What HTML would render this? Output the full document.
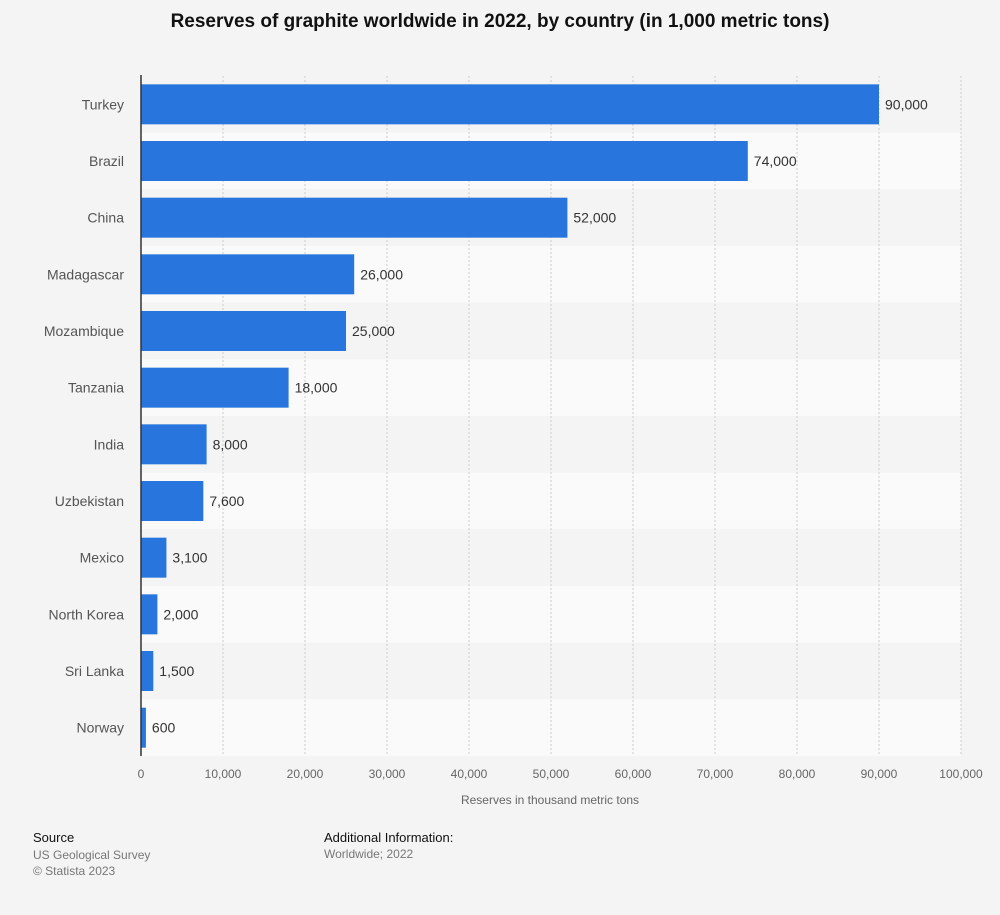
<!DOCTYPE html>
<html><head><meta charset="utf-8"><style>
body{margin:0;background:#f4f4f4;font-family:"Liberation Sans",sans-serif;}
#wrap{position:relative;width:1000px;height:915px;background:#f4f4f4;}
.t{position:absolute;white-space:nowrap;}
</style></head><body>
<div id="wrap">
<div class="t" style="left:0;width:1000px;text-align:center;top:11px;font-size:19px;font-weight:bold;color:#111">Reserves of graphite worldwide in 2022, by country (in 1,000 metric tons)</div>
<svg id="chart" width="1000" height="915" style="position:absolute;left:0;top:0"></svg>
<div class="t" style="left:33px;top:830px;font-size:13px;color:#111">Source</div>
<div class="t" style="left:33px;top:847px;font-size:12px;color:#777;line-height:16px">US Geological Survey<br>© Statista 2023</div>
<div class="t" style="left:324px;top:830px;font-size:13px;color:#111">Additional Information:</div>
<div class="t" style="left:324px;top:847px;font-size:12px;color:#777">Worldwide; 2022</div>
</div>
<script>
const categories=["Turkey","Brazil","China","Madagascar","Mozambique","Tanzania","India","Uzbekistan","Mexico","North Korea","Sri Lanka","Norway"];
const values=[90000,74000,52000,26000,25000,18000,8000,7600,3100,2000,1500,600];
const valueLabels=["90,000","74,000","52,000","26,000","25,000","18,000","8,000","7,600","3,100","2,000","1,500","600"];
const ticks=[0,10000,20000,30000,40000,50000,60000,70000,80000,90000,100000];
const tickLabels=["0","10,000","20,000","30,000","40,000","50,000","60,000","70,000","80,000","90,000","100,000"];
const NS="http://www.w3.org/2000/svg";
const svg=document.getElementById('chart');
const x0=141,x1=961,plotTop=76,plotBottom=756;
const band=(plotBottom-plotTop)/categories.length;
const x=v=>x0+(v/100000)*(x1-x0);
const y=i=>plotTop+i*band;
function mk(t,a){const e=document.createElementNS(NS,t);for(const k in a)e.setAttribute(k,a[k]);svg.appendChild(e);return e;}
categories.forEach((c,i)=>{
  const r=mk('rect',{x:x0,y:y(i),width:x1-x0,height:band,fill:i%2?'#fafafa':'#f4f4f4'});
  
  
});
ticks.forEach((t,i)=>{
  if(i>0){const l=mk('line',{x1:x(t),x2:x(t),y1:plotTop,y2:plotBottom,stroke:'#ccc','stroke-dasharray':'2,2'});
  
  }
  const tx=mk('text',{x:x(t),y:778,'text-anchor':'middle','font-size':'12',fill:'#666','font-family':'Liberation Sans'});
  tx.textContent=tickLabels[i];
  
  
});
categories.forEach((c,i)=>{
  const cy=y(i)+band/2;
  const b=mk('rect',{x:x0,y:cy-20,width:x(values[i])-x0,height:40,fill:'#2876dd'});
  
  
  const lb=mk('text',{x:124,y:cy+5,'text-anchor':'end','font-size':'14',fill:'#555','font-family':'Liberation Sans'});
  lb.textContent=c;
  
  
  const v=mk('text',{x:x(values[i])+6,y:cy+5,'font-size':'14',fill:'#333','font-family':'Liberation Sans'});
  v.textContent=valueLabels[i];
  
  
});
const ax=mk('line',{x1:x0,x2:x0,y1:plotTop-1,y2:plotBottom,stroke:'#333','stroke-width':1.5});


const xt=mk('text',{x:550,y:804,'text-anchor':'middle','font-size':'12',fill:'#666','font-family':'Liberation Sans'});
xt.textContent="Reserves in thousand metric tons";


</script>
</body></html>
